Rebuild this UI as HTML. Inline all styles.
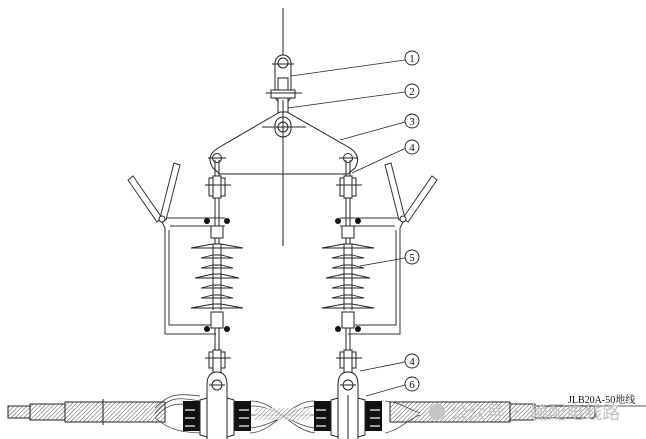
<!DOCTYPE html>
<html><head><meta charset="utf-8"><style>
html,body{margin:0;padding:0;background:#fff}
svg{display:block}
text{font-family:"Liberation Serif","Noto Serif CJK SC",serif}
</style></head><body>
<svg width="646" height="439" viewBox="0 0 646 439" xmlns="http://www.w3.org/2000/svg">
<defs>
<pattern id="hatch" width="3" height="3" patternUnits="userSpaceOnUse" patternTransform="rotate(45)">
<rect width="3" height="3" fill="#fff"/><line x1="0" y1="0" x2="0" y2="3" stroke="#555" stroke-width="1"/>
</pattern>
<g id="string">
  <line x1="-2" y1="160" x2="-2" y2="245" stroke="#222" stroke-width="1"/>
  <line x1="2" y1="160" x2="2" y2="245" stroke="#222" stroke-width="1"/>
  <rect x="-8" y="178" width="16" height="18" fill="#fff" stroke="#222"/>
  <rect x="-4" y="176" width="8" height="22" fill="#fff" stroke="#222"/>
  <line x1="-12" y1="185" x2="14" y2="185" stroke="#222"/>
  <rect x="-6" y="226" width="12" height="12" fill="#fff" stroke="#222"/>
  <g fill="#fff" stroke="#222" stroke-width="0.9">
    <path d="M-26 248 L-4 244 L4 244 L26 248 Z"/>
    <path d="M-16 258 L-4 255 L4 255 L16 258 Z"/>
    <path d="M-16 268 L-4 265 L4 265 L16 268 Z"/>
    <path d="M-22 278 L-4 274 L4 274 L22 278 Z"/>
    <path d="M-16 288 L-4 285 L4 285 L16 288 Z"/>
    <path d="M-16 298 L-4 295 L4 295 L16 298 Z"/>
    <path d="M-26 308 L-4 304 L4 304 L26 308 Z"/>
  </g>
  <line x1="-4" y1="244" x2="-4" y2="310" stroke="#222"/>
  <line x1="4" y1="244" x2="4" y2="310" stroke="#222"/>
  <rect x="-6" y="312" width="12" height="16" fill="#fff" stroke="#222"/>
  <line x1="-2" y1="328" x2="-2" y2="365" stroke="#222"/>
  <line x1="2" y1="328" x2="2" y2="365" stroke="#222"/>
  <rect x="-8" y="352" width="16" height="16" fill="#fff" stroke="#222"/>
  <rect x="-4" y="350" width="8" height="26" fill="#fff" stroke="#222"/>
  <line x1="-12" y1="358" x2="14" y2="358" stroke="#222"/>
  <path d="M-10 439 L-10 385 Q-10 372 0 372 Q10 372 10 385 L10 439" fill="#fff" stroke="#222"/>
  <circle cx="0" cy="385" r="5" fill="#fff" stroke="#222"/>
  <line x1="-8" y1="385" x2="8" y2="385" stroke="#222"/>
</g>
<g id="clampside">
  <rect x="-34" y="401" width="17" height="30" fill="#111"/>
  <rect x="17" y="401" width="17" height="30" fill="#111"/>
  <path d="M-17 400 L-10 398 L-10 437 L-17 435Z" fill="#fff" stroke="#222"/>
  <path d="M17 400 L10 398 L10 437 L17 435Z" fill="#fff" stroke="#222"/>
  <g stroke="#fff" stroke-width="1.2">
    <line x1="-32" y1="410" x2="-22" y2="410"/><line x1="-32" y1="418" x2="-22" y2="418"/><line x1="-32" y1="426" x2="-22" y2="426"/>
    <line x1="22" y1="410" x2="32" y2="410"/><line x1="22" y1="418" x2="32" y2="418"/><line x1="22" y1="426" x2="32" y2="426"/>
  </g>
</g>
</defs>

<rect x="8" y="406" width="22" height="12" fill="url(#hatch)" stroke="#222"/>
<rect x="30" y="404" width="35" height="16" fill="url(#hatch)" stroke="#222"/>
<rect x="65" y="402" width="100" height="20" fill="url(#hatch)" stroke="#222"/>
<line x1="103" y1="399" x2="103" y2="425" stroke="#222"/>
<rect x="390" y="402" width="120" height="20" fill="url(#hatch)" stroke="#222"/>
<rect x="510" y="404" width="25" height="16" fill="url(#hatch)" stroke="#222"/>
<rect x="535" y="406" width="60" height="12" fill="url(#hatch)" stroke="#222"/>
<g fill="none" stroke="#444" stroke-width="0.8">
  <path d="M155 413 C170 395 180 398 200 401"/><path d="M155 418 C170 400 180 404 200 406"/>
  <path d="M155 408 C170 392 180 394 200 396"/>
  <path d="M155 418 C170 430 180 432 200 433"/>
  <path d="M250 401 C275 400 290 430 315 433"/><path d="M250 433 C275 432 290 400 315 401"/>
  <path d="M250 406 C275 405 290 425 315 428"/><path d="M250 428 C275 426 290 408 315 406"/>
  <path d="M250 415 L315 415"/>
  <path d="M385 401 C400 402 410 410 420 413"/><path d="M385 433 C400 430 410 418 420 415"/>
</g>
<rect x="255" y="408" width="55" height="12" fill="url(#hatch)" opacity="0.7"/>

<line x1="283" y1="8" x2="283" y2="246" stroke="#222"/>

<rect x="275" y="55" width="16" height="48" rx="8" fill="#fff" stroke="#222"/>
<circle cx="283" cy="63" r="5" fill="#fff" stroke="#222"/>
<line x1="272" y1="64" x2="294" y2="64" stroke="#222"/>
<rect x="278" y="78" width="10" height="50" fill="#fff" stroke="#222"/>
<rect x="271" y="90" width="24" height="8" fill="#fff" stroke="#222"/>
<line x1="266" y1="93" x2="302" y2="93" stroke="#222"/>
<path d="M280 112 L218 148 Q205 156 213 168 L220 174 L348 174 L355 168 Q362 156 350 148 L287 112 Z" fill="#fff" stroke="#222"/>
<rect x="275" y="117" width="16" height="20" rx="8" fill="#fff" stroke="#222"/>
<circle cx="283" cy="127" r="5" fill="#fff" stroke="#222"/>
<line x1="262" y1="127" x2="306" y2="127" stroke="#222"/>
<line x1="283" y1="100" x2="283" y2="246" stroke="#222"/>
<circle cx="217" cy="158" r="4.5" fill="#fff" stroke="#222"/>
<circle cx="348" cy="158" r="4.5" fill="#fff" stroke="#222"/>
<line x1="208" y1="158" x2="226" y2="158" stroke="#222"/>
<line x1="339" y1="158" x2="357" y2="158" stroke="#222"/>

<g fill="none" stroke="#333" stroke-width="1">
  <path d="M160 218 L165 228 L165 334 L216 334"/>
  <path d="M169 230 L169 325 L216 325"/>
  <path d="M160 218 L225 218"/><path d="M170 226 L225 226"/>
  <path d="M133 176 L128 180 L157 222 L162 218 Z" fill="#fff"/>
  <path d="M174 163 L180 165 L166 220 L160 218 Z" fill="#fff"/>
  <path d="M405 218 L400 228 L400 334 L348 334"/>
  <path d="M396 230 L396 325 L348 325"/>
  <path d="M405 218 L340 218"/><path d="M395 226 L340 226"/>
  <path d="M432 176 L437 180 L408 222 L403 218 Z" fill="#fff"/>
  <path d="M391 163 L385 165 L399 220 L405 218 Z" fill="#fff"/>
</g>
<circle cx="162" cy="219" r="3" fill="#fff" stroke="#222"/>
<circle cx="403" cy="219" r="3" fill="#fff" stroke="#222"/>

<use href="#string" x="217"/>
<use href="#string" x="348"/>
<g fill="#111">
  <circle cx="207" cy="221" r="3"/><circle cx="227" cy="221" r="3"/>
  <circle cx="338" cy="221" r="3"/><circle cx="358" cy="221" r="3"/>
  <circle cx="207" cy="329" r="3"/><circle cx="227" cy="329" r="3"/>
  <circle cx="338" cy="329" r="3"/><circle cx="358" cy="329" r="3"/>
</g>
<use href="#clampside" x="217"/>
<use href="#clampside" x="348"/>
<line x1="348" y1="395" x2="348" y2="439" stroke="#222"/>

<g stroke="#222" stroke-width="0.8" fill="none">
  <line x1="291" y1="76" x2="405" y2="60"/>
  <line x1="288" y1="108" x2="405" y2="92"/>
  <line x1="340" y1="140" x2="405" y2="122"/>
  <line x1="352" y1="173" x2="406" y2="148"/>
  <line x1="360" y1="266" x2="405" y2="258"/>
  <line x1="360" y1="371" x2="405" y2="362"/>
  <line x1="366" y1="396" x2="405" y2="385"/>
  <line x1="535" y1="406" x2="646" y2="406"/>
</g>
<g fill="#fff" stroke="#222" stroke-width="0.9">
  <circle cx="412" cy="58" r="7"/><circle cx="412" cy="91" r="7"/>
  <circle cx="412" cy="121" r="7"/><circle cx="412" cy="147" r="7"/>
  <circle cx="412" cy="257" r="7"/><circle cx="412" cy="361" r="7"/>
  <circle cx="412" cy="384" r="7"/>
</g>
<g font-size="11" text-anchor="middle" fill="#111">
  <text x="412" y="62">1</text><text x="412" y="95">2</text>
  <text x="412" y="125">3</text><text x="412" y="151">4</text>
  <text x="412" y="261">5</text><text x="412" y="365">4</text>
  <text x="412" y="388">6</text>
</g>
<text x="568" y="403" font-size="10" fill="#111">JLB20A-50地线</text>
<text x="428" y="419" font-size="18" fill="#c4c4c4" style="font-family:'Noto Sans CJK SC',sans-serif">● 公众号 · 输配电线路</text>
</svg>
</body></html>
